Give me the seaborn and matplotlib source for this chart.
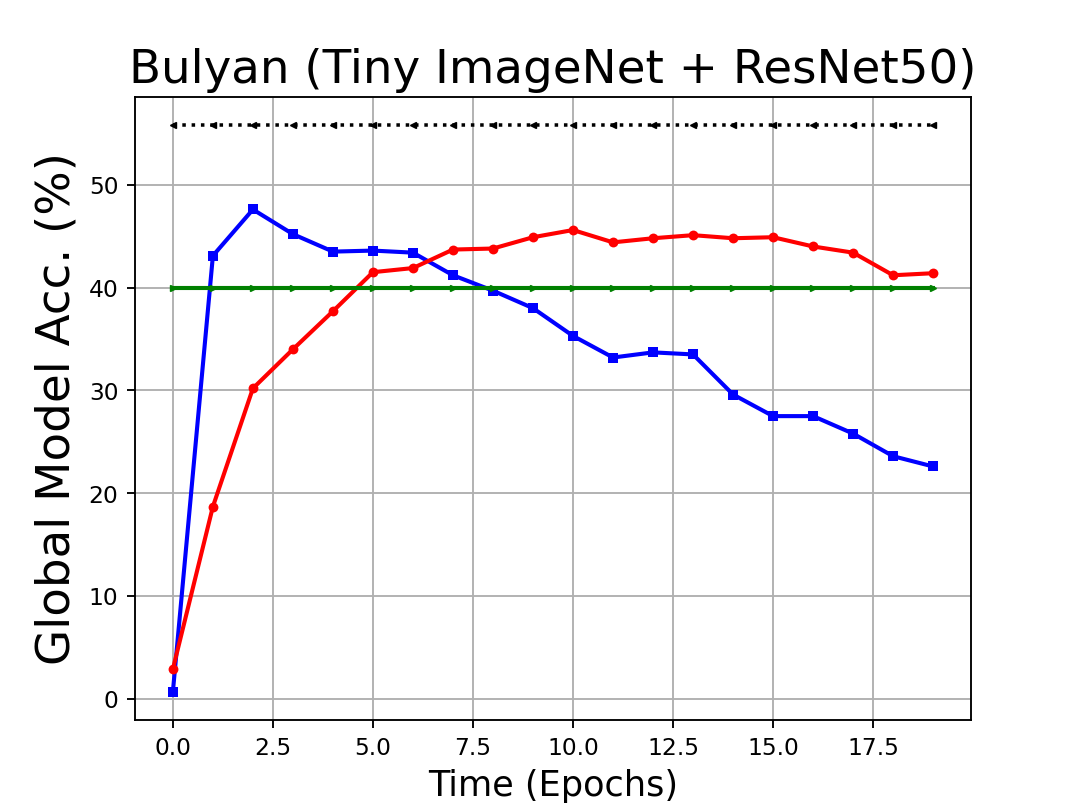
import numpy as np
import pandas as pd
import matplotlib
matplotlib.use('Agg')
import matplotlib.pyplot as plt
import seaborn as sns

epochs = list(range(20))
blue_acc = [0.7, 43.1, 47.6, 45.2, 43.5, 43.6, 43.4, 41.2, 39.7, 38.0,
            35.3, 33.2, 33.7, 33.5, 29.6, 27.5, 27.5, 25.8, 23.6, 22.6]
red_acc = [2.9, 18.7, 30.2, 34.0, 37.7, 41.5, 41.9, 43.7, 43.8, 44.9,
           45.6, 44.4, 44.8, 45.1, 44.8, 44.9, 44.0, 43.4, 41.2, 41.4]
black_acc = [55.8] * 20
green_acc = [40.0] * 20

df = pd.DataFrame({'epoch': epochs, 'blue': blue_acc, 'red': red_acc,
                   'black': black_acc, 'green': green_acc})

fig, ax = plt.subplots(figsize=(6.4, 4.8), dpi=168.6)

sns.lineplot(data=df, x='epoch', y='black', color='black', linestyle=':',
             linewidth=1.5, marker='<', markersize=2.2, markeredgewidth=0.6,
             markeredgecolor='black', ax=ax)
sns.lineplot(data=df, x='epoch', y='blue', color='blue', linewidth=1.75,
             marker='s', markersize=4, markeredgewidth=0, ax=ax)
sns.lineplot(data=df, x='epoch', y='red', color='red', linewidth=1.75,
             marker='o', markersize=4.2, markeredgewidth=0, ax=ax)
sns.lineplot(data=df, x='epoch', y='green', color='green', linewidth=1.75,
             marker='>', markersize=2.2, markeredgewidth=0.6,
             markeredgecolor='green', ax=ax)

ax.grid(True, color='#b0b0b0', linewidth=0.8)
ax.set_axisbelow(True)
ax.set_title('Bulyan (Tiny ImageNet + ResNet50)', fontsize=20)
ax.set_xlabel('Time (Epochs)', fontsize=15)
ax.set_ylabel('Global Model Acc. (%)', fontsize=20)
ax.set_xticks([0, 2.5, 5, 7.5, 10, 12.5, 15, 17.5])
ax.set_xticklabels(['0.0', '2.5', '5.0', '7.5', '10.0', '12.5', '15.0', '17.5'])

fig.savefig('out.png', dpi=168.6)
